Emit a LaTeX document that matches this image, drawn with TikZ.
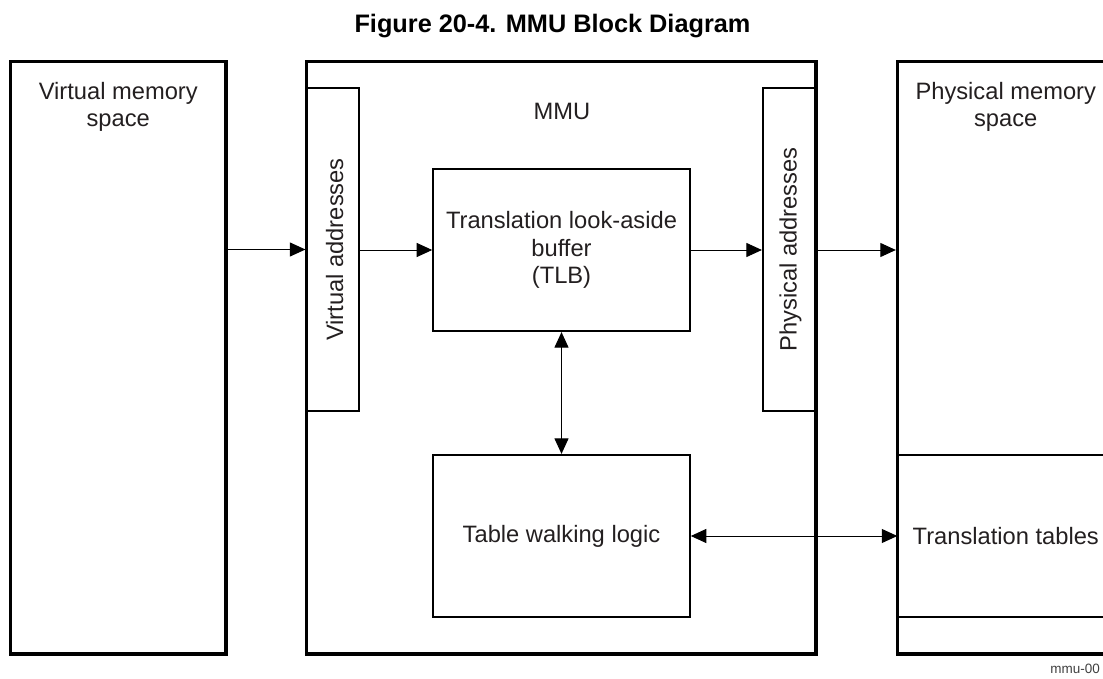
\documentclass[tikz,border=0pt]{standalone}
\usepackage{fontspec}
\setmainfont{Liberation Sans}
\usetikzlibrary{arrows.meta}
\definecolor{txt}{RGB}{35,31,32}
\begin{document}
\begin{tikzpicture}[x=1pt,y=-1pt,
  bigbox/.style={draw=black, line width=3.3pt, inner sep=0pt, rectangle},
  smallbox/.style={draw=black, line width=2.2pt, inner sep=0pt, rectangle},
  lbl/.style={font=\fontsize{23.7}{27.5}\selectfont, text=txt, inner sep=0pt, align=center},
  arr/.style={line width=1pt, -{Triangle[length=15.5pt,width=14pt]}},
  darr/.style={line width=1pt, {Triangle[length=15.5pt,width=14pt]}-{Triangle[length=15.5pt,width=14pt]}}]
\useasboundingbox (0,0) rectangle (1103,679);
\clip (0,0) rectangle (1103,679);

% title
\node[font=\fontsize{25.3}{30}\selectfont\bfseries, inner sep=0pt, anchor=base] (title) at (552.5,32.5) {Figure 20-4. MMU Block Diagram};

% outer boxes
\node[bigbox, minimum width=215.5pt, minimum height=592.5pt] (vm) at (118.25,357.75) {};
\node[bigbox, minimum width=509.5pt, minimum height=592.5pt] (mmu) at (561.25,357.75) {};
\node[bigbox, minimum width=216.5pt, minimum height=592.5pt] (pm) at (1005.75,357.75) {};

% box labels
\node[lbl, anchor=north] (vmt) at (118.25,82) {Virtual memory\\space};
\node[lbl, anchor=north] (pmt) at (1005.75,82) {Physical memory\\space};
\node[lbl, anchor=base] (mmut) at (562,120) {MMU};

% inner boxes
\node[smallbox, minimum width=52.5pt, minimum height=323pt] (va) at (332.75,249.5) {};
\node[smallbox, minimum width=53pt, minimum height=323pt] (pa) at (789.5,249.5) {};
\node[lbl, rotate=90, anchor=base] (vat) at (343,249.5) {Virtual addresses};
\node[lbl, rotate=90, anchor=base] (pat) at (796.5,249.5) {Physical addresses};

\node[smallbox, lbl, minimum width=256.4pt, minimum height=162pt] (tlb) at (561.5,250) {Translation look-aside\\buffer\\(TLB)};
\node[smallbox, lbl, minimum width=256.4pt, minimum height=162pt] (twl) at (561.5,536) {Table walking logic};

% translation tables region
\node[lbl, minimum width=216.5pt, minimum height=162pt] (tt) at (1005.75,536) {Translation tables};
\draw[line width=2.2pt] (tt.north west) -- (tt.north east) (tt.south west) -- (tt.south east);

% connectors
\draw[arr] (vm.east |- va.west) -- (va.west);
\draw[arr] (va.east |- tlb.west) -- (tlb.west);
\draw[arr] (tlb.east) -- (pa.west |- tlb.east);
\draw[arr] (pa.east |- tlb.east) -- (pm.west |- tlb.east);
\draw[darr] (tlb.south) -- (twl.north);
\draw[darr] (twl.east) -- (tt.west);

% figure id
\node[font=\fontsize{13.5}{16}\selectfont, text=black!75, inner sep=0pt, anchor=base east] (fid) at (1100,673) {mmu-00};
\end{tikzpicture}
\end{document}
